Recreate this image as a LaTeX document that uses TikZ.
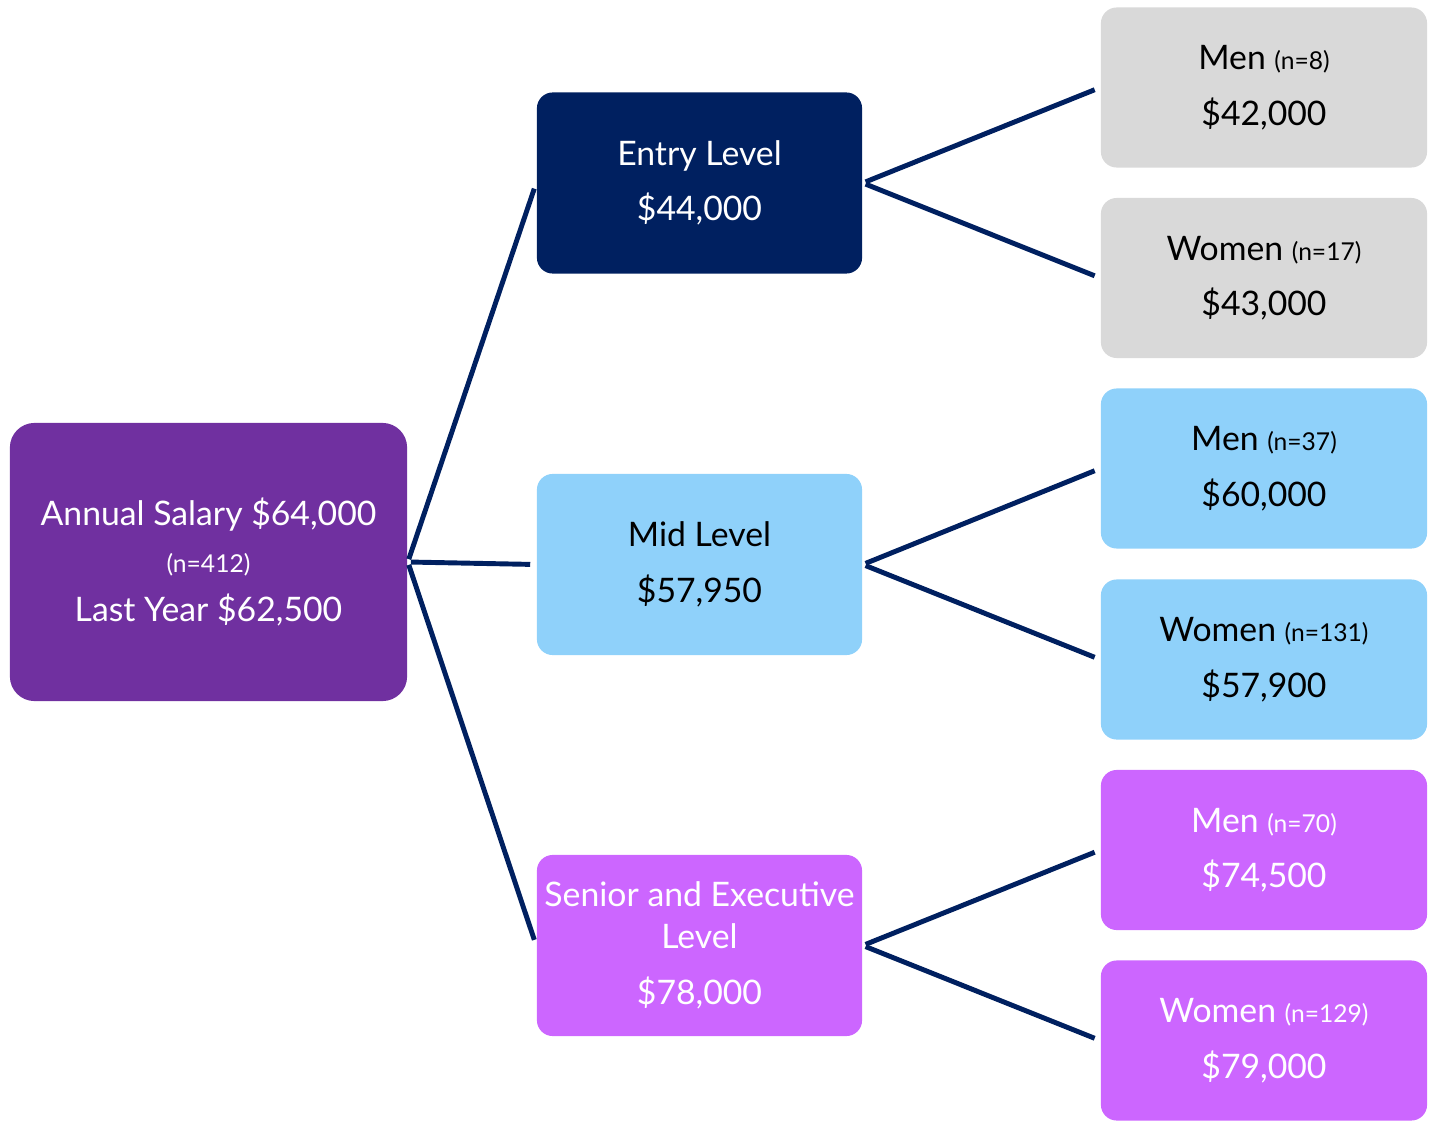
\documentclass[tikz,border=0pt]{standalone}
\usepackage{fontspec}
\setmainfont{Lato}
\usepackage{xcolor}
\usepackage{tikz}
\usetikzlibrary{positioning}
\definecolor{salpurple}{HTML}{7030A0}
\definecolor{salnavy}{HTML}{002060}
\definecolor{salsky}{HTML}{8FD1FA}
\definecolor{salpink}{HTML}{CC66FF}
\definecolor{salgray}{HTML}{D9D9D9}
\tikzset{
    rootbox/.style={rectangle, rounded corners=7pt, fill=#1, draw=none,
        minimum width=3.97cm, minimum height=2.78cm, align=center,
        text=white, font=\fontsize{9.6}{13}\selectfont},
    levelbox/.style={rectangle, rounded corners=4.5pt, fill=#1, draw=none,
        minimum width=3.25cm, minimum height=1.81cm, align=center,
        inner xsep=1pt, font=\fontsize{9.6}{11.9}\selectfont},
    leafbox/.style={rectangle, rounded corners=4.5pt, fill=#1, draw=none,
        minimum width=3.26cm, minimum height=1.60cm, align=center,
        inner xsep=1pt, font=\fontsize{9.6}{11.9}\selectfont},
    connline/.style={draw=salnavy, line width=1.4pt,
        shorten <=0.85pt, shorten >=1.7pt},
}
\newcommand{\nsmall}[1]{{\fontsize{7}{9}\selectfont #1}}

\begin{document}
\begin{tikzpicture}[x=0.01cm, y=-0.01cm]

    \useasboundingbox (0,0) rectangle (1435,1124);

    % ── Root box ───────────────────────────────────────────────────────────
    \node[rootbox=salpurple] (root) at (208.5,562)
        {Annual Salary \$64,000\\[0.5pt]
         \nsmall{(n=412)}\\[1pt]
         Last Year \$62,500};

    % ── Level boxes ────────────────────────────────────────────────────────
    \node[levelbox=salnavy, text=white] (entry) at (699.5,183)
        {Entry Level\\[3.9pt]\$44,000};
    \node[levelbox=salsky, text=black] (mid) at (699.5,564.5)
        {Mid Level\\[3.9pt]\$57,950};
    \node[levelbox=salpink, text=white] (senior) at (699.5,945.5)
        {Senior and Executive\\Level\\[3.9pt]\$78,000};

    % ── Men / Women boxes ──────────────────────────────────────────────────
    \node[leafbox=salgray, text=black] (entrymen) at (1264,87.5)
        {Men \nsmall{(n=8)}\\[3.9pt]\$42,000};
    \node[leafbox=salgray, text=black] (entrywomen) at (1264,278)
        {Women \nsmall{(n=17)}\\[3.9pt]\$43,000};
    \node[leafbox=salsky, text=black] (midmen) at (1264,468.5)
        {Men \nsmall{(n=37)}\\[3.9pt]\$60,000};
    \node[leafbox=salsky, text=black] (midwomen) at (1264,659.5)
        {Women \nsmall{(n=131)}\\[3.9pt]\$57,900};
    \node[leafbox=salpink, text=white] (seniormen) at (1264,850)
        {Men \nsmall{(n=70)}\\[3.9pt]\$74,500};
    \node[leafbox=salpink, text=white] (seniorwomen) at (1264,1040.5)
        {Women \nsmall{(n=129)}\\[3.9pt]\$79,000};

    % ── Connectors ─────────────────────────────────────────────────────────
    \foreach \lvl in {entry, mid, senior}
        \draw[connline] (root.east) -- (\lvl.west);

    \foreach \lvl in {entry, mid, senior} {
        \draw[connline] (\lvl.east) -- (\lvl men.west);
        \draw[connline] (\lvl.east) -- (\lvl women.west);
    }

\end{tikzpicture}
\end{document}
